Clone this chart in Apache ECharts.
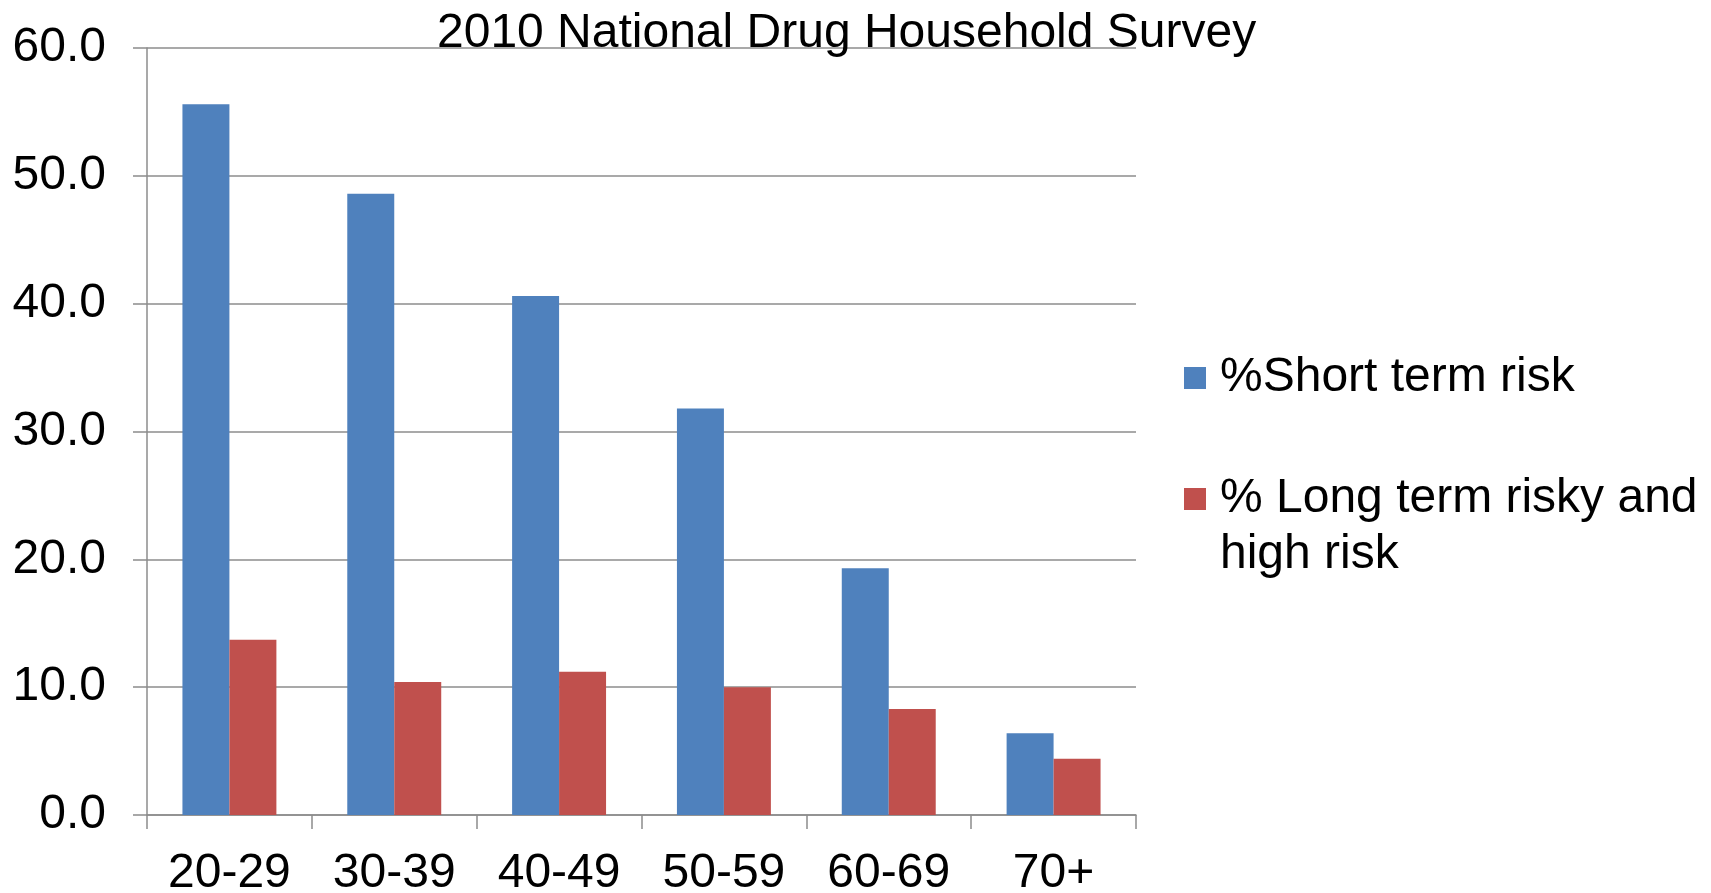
<!DOCTYPE html>
<html>
<head>
<meta charset="utf-8">
<script src="https://cdn.jsdelivr.net/npm/echarts@6/dist/echarts.min.js"></script>
<style>
  html, body { margin: 0; padding: 0; background: #ffffff; }
  #chart { width: 1711px; height: 893px; }
</style>
</head>
<body>
<div id="chart"></div>
<script>
// Age bands and the share of drinkers in each risk group (%)
const categories = ['20-29', '30-39', '40-49', '50-59', '60-69', '70+'];
const shortTermRisk = [55.6, 48.6, 40.6, 31.8, 19.3, 6.4];
const longTermRisk = [13.7, 10.4, 11.2, 10.0, 8.3, 4.4];
const seriesNames = ['%Short term risk', '% Long term risky and high risk'];
const chartTitle = '2010 National Drug Household Survey';

const FONT = '"Liberation Sans", Arial, sans-serif';
const AXIS_GREY = '#8c8c8c';

const chart = echarts.init(document.getElementById('chart'), null, { renderer: 'canvas' });

chart.setOption({
  animation: false,
  backgroundColor: '#ffffff',
  textStyle: { fontFamily: FONT, color: '#000000' },
  title: {
    text: chartTitle,
    left: 437,
    top: 10,
    padding: 0,
    textStyle: { fontFamily: FONT, fontSize: 48, fontWeight: 'normal', color: '#000000' }
  },
  grid: { left: 147, right: 575, top: 48, bottom: 78, containLabel: false, outerBoundsMode: 'none' },
  legend: {
    orient: 'vertical',
    left: 1184,
    top: 350,
    padding: 0,
    itemWidth: 22,
    itemHeight: 22,
    itemGap: 9,
    icon: 'rect',
    selectedMode: false,
    textStyle: { fontFamily: FONT, fontSize: 48, color: '#000000', lineHeight: 56, padding: [0, 0, 0, 9] },
    data: [seriesNames[0], seriesNames[1]],
    // the wrapped entry gets an empty leading line so its first line sits beside the swatch
    formatter: function (name) {
      return name === seriesNames[1] ? '\n% Long term risky and\nhigh risk' : name;
    }
  },
  xAxis: {
    type: 'category',
    data: categories,
    boundaryGap: true,
    axisLine: { show: true, lineStyle: { color: AXIS_GREY, width: 1.5 } },
    axisTick: { show: true, alignWithLabel: false, length: 14, lineStyle: { color: AXIS_GREY, width: 1.5 } },
    axisLabel: { fontFamily: FONT, fontSize: 48, color: '#000000', margin: 35 },
    splitLine: { show: false }
  },
  yAxis: {
    type: 'value',
    min: 0,
    max: 60,
    interval: 10,
    axisLine: { show: true, lineStyle: { color: AXIS_GREY, width: 1.5 } },
    axisTick: { show: true, inside: false, length: 14, lineStyle: { color: AXIS_GREY, width: 1.5 } },
    axisLabel: {
      fontFamily: FONT, fontSize: 48, color: '#000000', margin: 41,
      formatter: function (v) { return v.toFixed(1); }
    },
    splitLine: { show: true, lineStyle: { color: AXIS_GREY, width: 1.5 } }
  },
  series: [
    {
      name: seriesNames[0],
      type: 'bar',
      data: shortTermRisk,
      barWidth: '28.5%',
      barGap: '0%',
      itemStyle: { color: '#4F81BD' }
    },
    {
      name: seriesNames[1],
      type: 'bar',
      data: longTermRisk,
      barWidth: '28.5%',
      barGap: '0%',
      itemStyle: { color: '#C0504D' }
    }
  ]
});
</script>
</body>
</html>
